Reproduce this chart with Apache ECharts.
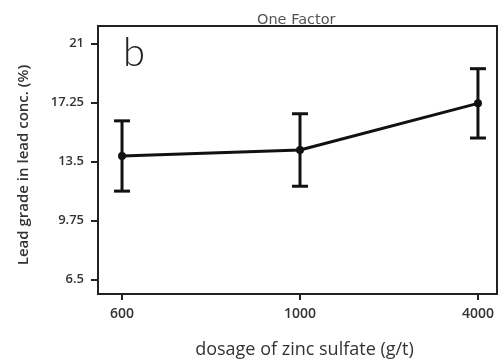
<!DOCTYPE html>
<html>
<head>
<meta charset="utf-8">
<script src="https://cdn.jsdelivr.net/npm/echarts@6/dist/echarts.min.js"></script>
<style>
  html, body { margin: 0; padding: 0; background: #fff; }
  #chart { width: 498px; height: 364px; }
</style>
</head>
<body>
<div id="chart"></div>
<script>
// Zinc sulfate dosage levels (g/t)
const dosages = ['600', '1000', '4000'];
// Mean lead grade in lead concentrate (%)
const leadGrade = [13.85, 14.23, 17.19];
// Half-width of the error bars (%)
const leadErr = [2.23, 2.3, 2.2];
// Y-axis tick positions and their printed labels
const yTickValues = [6, 9.75, 13.5, 17.25, 21];
const yTickLabels = ['6.5', '9.75', '13.5', '17.25', '21'];

const xIdx = dosages.map((_, i) => i);
const lineData = dosages.map((_, i) => [i, leadGrade[i]]);
const barData = dosages.map((_, i) => [i, leadGrade[i] - leadErr[i], leadGrade[i] + leadErr[i]]);

const chart = echarts.init(document.getElementById('chart'), null, { renderer: 'canvas' });

chart.setOption({
  animation: false,
  backgroundColor: '#fff',
  title: {
    text: 'One Factor',
    left: 257,
    top: 13,
    padding: 0,
    textStyle: { fontFamily: 'DejaVu Sans', fontSize: 14.5, fontWeight: 'normal', color: '#555' }
  },
  grid: {
    left: 98, right: 1, top: 26, bottom: 68,
    show: true, borderColor: '#222', borderWidth: 2, backgroundColor: 'transparent'
  },
  graphic: [{
    type: 'text',
    left: 123,
    top: 33,
    style: { text: 'b', fontFamily: 'Lato', fontWeight: 300, fontSize: 40, fill: '#222' }
  }],
  xAxis: {
    type: 'value',
    min: -0.135,
    max: 2.107,
    splitLine: { show: false },
    axisLine: { show: true, onZero: false, lineStyle: { color: '#222', width: 2 } },
    axisTick: { show: true, customValues: xIdx, length: 6, lineStyle: { color: '#222', width: 2 } },
    axisLabel: {
      customValues: xIdx,
      margin: 13,
      formatter: v => dosages[Math.round(v)],
      fontFamily: 'Open Sans', fontWeight: 600, fontSize: 14, color: '#333'
    },
    name: 'dosage of zinc sulfate (g/t)',
    nameLocation: 'middle',
    nameGap: 47,
    nameTextStyle: { fontFamily: 'Open Sans', fontSize: 18, color: '#333', padding: [0, 0, 0, 14] }
  },
  yAxis: {
    type: 'value',
    min: 5.09,
    max: 22.1,
    splitLine: { show: false },
    axisLine: { show: true, onZero: false, lineStyle: { color: '#222', width: 2 } },
    axisTick: { show: true, customValues: yTickValues, length: 7, lineStyle: { color: '#222', width: 2 } },
    axisLabel: {
      customValues: yTickValues,
      margin: 14,
      formatter: v => yTickLabels[yTickValues.findIndex(t => Math.abs(t - v) < 1e-6)],
      fontFamily: 'Open Sans', fontWeight: 600, fontSize: 13, color: '#333'
    },
    name: 'Lead grade in lead conc. (%)',
    nameLocation: 'middle',
    nameGap: 67,
    nameTextStyle: { fontFamily: 'Open Sans', fontWeight: 600, fontSize: 15, color: '#333', padding: [0, 10, 0, 0] }
  },
  series: [
    {
      type: 'custom',
      data: barData,
      z: 3,
      renderItem: function (params, api) {
        const x = api.value(0);
        const lo = api.coord([x, api.value(1)]);
        const hi = api.coord([x, api.value(2)]);
        const cap = 8;
        const style = { stroke: '#111', lineWidth: 3 };
        return {
          type: 'group',
          children: [
            { type: 'line', shape: { x1: lo[0], y1: lo[1], x2: hi[0], y2: hi[1] }, style },
            { type: 'line', shape: { x1: hi[0] - cap, y1: hi[1], x2: hi[0] + cap, y2: hi[1] }, style },
            { type: 'line', shape: { x1: lo[0] - cap, y1: lo[1], x2: lo[0] + cap, y2: lo[1] }, style }
          ]
        };
      }
    },
    {
      type: 'line',
      data: lineData,
      z: 4,
      symbol: 'circle',
      symbolSize: 8,
      itemStyle: { color: '#111' },
      lineStyle: { color: '#111', width: 3 }
    }
  ]
});
</script>
</body>
</html>
